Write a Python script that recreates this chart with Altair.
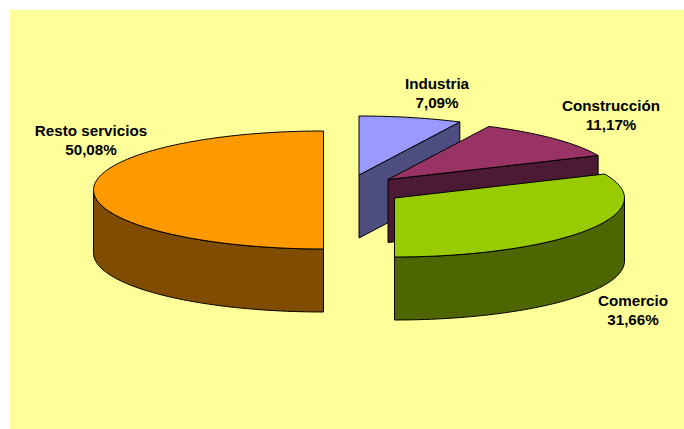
import math
import altair as alt
import pandas as pd

# Sector shares in percent, clockwise from twelve o'clock
sectors = ["Industria", "Construcción", "Comercio", "Resto servicios"]
shares = [7.09, 11.17, 31.66, 50.08]

top_colors = ["#9999FF", "#993366", "#99CC00", "#FF9900"]
wall_colors = ["#4D4D80", "#4D1A33", "#4D6600", "#804D00"]

# Exploded apex of each slice on the page, and the shared ellipse shape
apex_x = [359.0, 388.0, 394.5, 323.5]
apex_y = [175.0, 179.5, 198.0, 190.0]
radius_x, radius_y, depth = 230.0, 59.0, 63.0

# Position of each label's first line
label_x = [437, 611, 633, 91]
label_y = [84, 106, 301, 131]

WIDTH, HEIGHT = 684, 429
x_scale = alt.Scale(domain=[0, WIDTH], range=[0, WIDTH], nice=False, zero=False)
y_scale = alt.Scale(domain=[0, HEIGHT], range=[0, HEIGHT], nice=False, zero=False)


def rim(cx, cy, start, end, drop=0.0):
    """Points along the ellipse between two clockwise angles, in degrees."""
    steps = max(2, int(abs(end - start) / 1.5))
    points = []
    for i in range(steps + 1):
        a = math.radians(start + (end - start) * i / steps)
        points.append((cx + radius_x * math.sin(a), cy - radius_y * math.cos(a) + drop))
    return points


def face(points, fill):
    """A closed, filled outline through the given points."""
    frame = pd.DataFrame(points, columns=["px", "py"]).reset_index(names="vertex")
    return (
        alt.Chart(frame)
        .mark_line(fill=fill, stroke="#000000", strokeWidth=1, interpolate="linear-closed", strokeJoin="round")
        .encode(
            x=alt.X("px:Q", scale=x_scale, axis=None),
            y=alt.Y("py:Q", scale=y_scale, axis=None),
            order="vertex:Q",
        )
    )


# Cumulative slice angles, snapped to whole degrees
bounds = []
running = 0.0
for share in shares:
    bounds.append((round(running * 3.6), round((running + share) * 3.6)))
    running += share

panel = (
    alt.Chart(pd.DataFrame({"x0": [10], "x1": [WIDTH], "y0": [10], "y1": [HEIGHT]}))
    .mark_rect(color="#FFFF99")
    .encode(
        x=alt.X("x0:Q", scale=x_scale, axis=None),
        x2="x1:Q",
        y=alt.Y("y0:Q", scale=y_scale, axis=None),
        y2="y1:Q",
    )
)

layers = [panel]

# Resto servicios: the outer wall is visible on the lower left only
cx, cy = apex_x[3], apex_y[3]
start, end = bounds[3]
front = rim(cx, cy, start, 270)
layers.append(face(front + [(x, y + depth) for x, y in reversed(front)], wall_colors[3]))
layers.append(face([(cx, cy)] + rim(cx, cy, start, end), top_colors[3]))

# Industria and Construcción: the cut face at the end of the slice is visible
for i in (0, 1):
    cx, cy = apex_x[i], apex_y[i]
    start, end = bounds[i]
    tip = rim(cx, cy, end, end)[0]
    layers.append(
        face([(cx, cy), tip, (tip[0], tip[1] + depth), (cx, cy + depth)], wall_colors[i])
    )
    layers.append(face([(cx, cy)] + rim(cx, cy, start, end), top_colors[i]))

# Comercio: the outer wall shows from the rightmost point round to the bottom
cx, cy = apex_x[2], apex_y[2]
start, end = bounds[2]
outer = rim(cx, cy, 90, end)
layers.append(face(outer + [(x, y + depth) for x, y in reversed(outer)], wall_colors[2]))
layers.append(face([(cx, cy)] + rim(cx, cy, start, end), top_colors[2]))

labels = pd.DataFrame(
    {
        "name": sectors,
        "share": shares,
        "lx": label_x,
        "ly": label_y,
    }
)
labels["caption"] = [
    f"{n}\n{s:.2f}%".replace(".", ",") for n, s in zip(labels["name"], labels["share"])
]
layers.append(
    alt.Chart(labels)
    .mark_text(
        font="Liberation Sans",
        fontSize=15.2,
        fontWeight="bold",
        color="#000000",
        align="center",
        baseline="middle",
        lineBreak="\n",
        lineHeight=19,
    )
    .encode(
        x=alt.X("lx:Q", scale=x_scale, axis=None),
        y=alt.Y("ly:Q", scale=y_scale, axis=None),
        text="caption:N",
    )
)

chart = (
    alt.layer(*layers)
    .properties(
        width=WIDTH,
        height=HEIGHT,
        padding=0,
        autosize=alt.AutoSizeParams(type="none"),
        background="#FFFFFF",
    )
    .configure_view(stroke=None)
)

chart.save("out.html", embed_options={"renderer": "svg", "actions": False})
